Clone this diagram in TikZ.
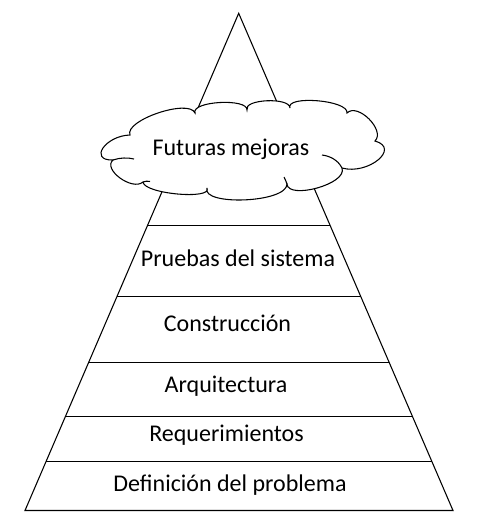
\documentclass[tikz,border=0pt]{standalone}
\usepackage{fontspec}
\setmainfont{Carlito}
\begin{document}
\begin{tikzpicture}[x=0.75pt,y=-0.75pt,
  edge/.style={draw=black,line width=0.8pt},
  cloudline/.style={draw=black,line width=0.8pt,line join=miter},
  lab/.style={anchor=base,inner sep=0pt,font=\fontsize{18}{21}\selectfont}]
\useasboundingbox (0,0) rectangle (480,526);
\coordinate (A) at (238.7,13.3);
\coordinate (L) at (25,510.5);
\coordinate (R) at (453,510.5);
\draw[edge] (L) -- (A) -- (R) -- cycle;
\path (L) -- (A) coordinate[pos=0.5736] (l1) coordinate[pos=0.4310] (l2) coordinate[pos=0.2984] (l3) coordinate[pos=0.1899] (l4) coordinate[pos=0.0995] (l5);
\path (R) -- (A) coordinate[pos=0.5736] (r1) coordinate[pos=0.4310] (r2) coordinate[pos=0.2984] (r3) coordinate[pos=0.1899] (r4) coordinate[pos=0.0995] (r5);
\draw[edge] (l1) -- (r1);
\draw[edge] (l2) -- (r2);
\draw[edge] (l3) -- (r3);
\draw[edge] (l4) -- (r4);
\draw[edge] (l5) -- (r5);
% cloud
\coordinate (c1) at (195,113);
\coordinate (c2) at (247,110);
\coordinate (c3) at (290,108);
\coordinate (c4) at (347,113);
\coordinate (c5) at (375,141);
\coordinate (c6) at (342,168);
\coordinate (c7) at (287,184);
\coordinate (c8) at (207,188);
\coordinate (c9) at (143,182);
\coordinate (c10) at (113,160);
\coordinate (c11) at (130,135);
\filldraw[cloudline,fill=white] (c1)
  .. controls (191,101) and (248,98) .. (c2)
  .. controls (243,99) and (290,97) .. (c3)
  .. controls (285,95) and (349,100) .. (c4)
  .. controls (357.7,102.3) and (385.7,130.3) .. (c5)
  .. controls (401,148.3) and (368,175.3) .. (c6)
  .. controls (348,184) and (288,200) .. (c7)
  .. controls (287,203) and (201,206) .. (c8)
  .. controls (213,200) and (144,194) .. (c9)
  .. controls (132.3,191.3) and (102.3,169.3) .. (c10)
  .. controls (88.3,160.7) and (105.3,135.7) .. (c11)
  .. controls (124,120.3) and (189,98.3) .. (c1) -- cycle;
\draw[cloudline] (c10) .. controls (120,157.5) and (128,157.5) .. (134,159);
\draw[cloudline] (c6) .. controls (338,160) and (330,156) .. (322,155);
\draw[cloudline] (c9) .. controls (145,181) and (148,181) .. (150,181.5);
\draw[cloudline] (c7) .. controls (286,181) and (285,179) .. (284,177);
\node[lab] (t0) at (231,155.7) {Futuras mejoras};
\node[lab] (t1) at (238,266) {Pruebas del sistema};
\node[lab] (t2) at (227.5,331.7) {Construcción};
\node[lab] (t3) at (226,392.3) {Arquitectura};
\node[lab] (t4) at (226.5,441.7) {Requerimientos};
\node[lab] (t5) at (230,491.7) {Definición del problema};
\end{tikzpicture}
\end{document}
